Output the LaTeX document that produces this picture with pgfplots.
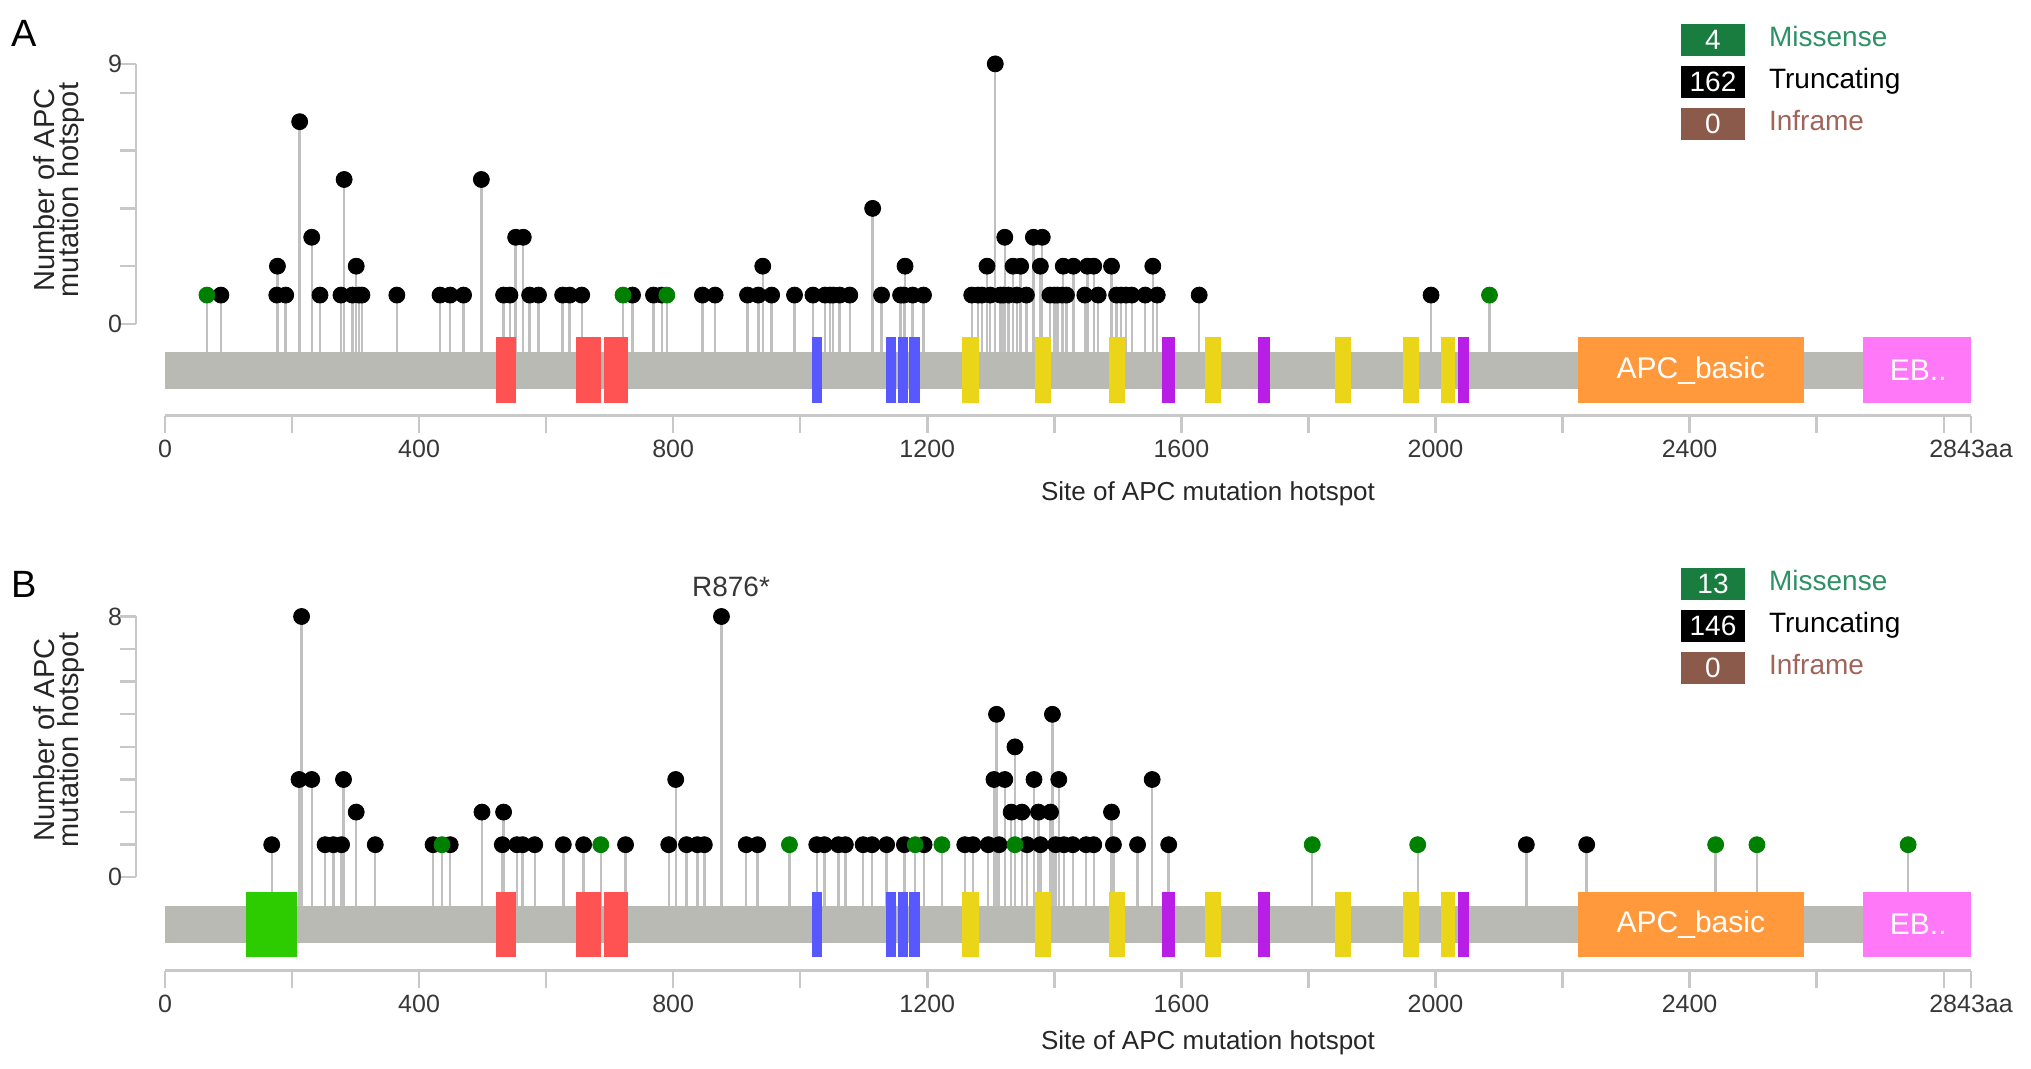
\documentclass[border=0pt]{standalone}
\usepackage{fontspec}
\setmainfont{Liberation Sans}
\usepackage{pgfplots}
\usepackage{pgfplotstable}
\pgfplotsset{compat=1.18}

\definecolor{bargray}{RGB}{186,186,181}
\definecolor{stemgray}{RGB}{192,192,192}
\definecolor{axgray}{RGB}{200,200,200}
\definecolor{ticktext}{RGB}{55,55,55}
\definecolor{misgreen}{RGB}{0,128,0}
\definecolor{legmis}{RGB}{24,125,62}
\definecolor{legmistext}{RGB}{45,145,100}
\definecolor{leginf}{RGB}{140,90,75}
\definecolor{leginftext}{RGB}{160,100,90}
\definecolor{domred}{RGB}{255,83,83}
\definecolor{domblue}{RGB}{88,88,255}
\definecolor{domyellow}{RGB}{235,213,25}
\definecolor{dompurple}{RGB}{185,30,230}
\definecolor{domorange}{RGB}{255,153,60}
\definecolor{dompink}{RGB}{255,120,248}
\definecolor{domgreen}{RGB}{45,204,0}

\newcommand{\dom}[3]{\addplot[fill=#1, draw=none] coordinates {(#2,\dlo)(#3,\dlo)(#3,\dhi)(#2,\dhi)} -- cycle;}
\newcommand{\domains}{%
  \dom{domred}{521}{552}\dom{domred}{647}{686}\dom{domred}{691}{729}
  \dom{domblue}{1018}{1034}\dom{domblue}{1135}{1151}\dom{domblue}{1154}{1170}\dom{domblue}{1171}{1188}
  \dom{domyellow}{1255}{1282}\dom{domyellow}{1369}{1395}\dom{domyellow}{1486}{1511}
  \dom{domyellow}{1637}{1662}\dom{domyellow}{1842}{1867}\dom{domyellow}{1949}{1974}\dom{domyellow}{2009}{2031}
  \dom{dompurple}{1569}{1590}\dom{dompurple}{1720}{1739}\dom{dompurple}{2035}{2053}
  \dom{domorange}{2224}{2580}\dom{dompink}{2673}{2843}}

\pgfplotsset{
  track/.style={scale only axis, width=903pt, xmin=0, xmax=2843,
    enlargelimits=false, clip=false, anchor=south west,
    axis y line=none, axis x line*=bottom,
    x axis line style={draw=axgray, line width=1.5pt, -},
    xtick={0,200,400,600,800,1000,1200,1400,1600,1800,2000,2200,2400,2600,2800,2843},
    xticklabels={0,,400,,800,,1200,,1600,,2000,,2400,,,2843aa},
    tick align=outside, major tick length=8.5pt,
    tick style={draw=axgray, line width=1.2pt},
    xticklabel style={font=\fontsize{12.5}{12.5}\selectfont, text=ticktext},
    /pgf/number format/assume math mode=true},
  yax/.style={scale only axis, width=1pt, xmin=0, xmax=1, anchor=south west,
    enlargelimits=false, axis x line=none, axis y line*=left,
    y axis line style={draw=axgray, line width=1.2pt, -},
    tick align=outside, major tick length=8pt,
    tick style={draw=axgray, line width=1.2pt},
    yticklabel style={font=\fontsize{12.5}{12.5}\selectfont, text=ticktext, xshift=4.5pt},
    /pgf/number format/assume math mode=true},
  stems/.style={draw=none, mark=none, forget plot,
    error bars/.cd, y dir=minus, y explicit, error mark=none,
    error bar style={draw=stemgray, line width=1.2pt}},
  heads/.style={only marks, mark=*, mark size=4pt},
}

\begin{document}

\pgfplotstableread{
pos n
88 1
176 1
177 2
190 1
212 7
231 3
244 1
277 1
282 5
295 1
301 2
305 1
310 1
365 1
433 1
449 1
470 1
498 5
533 1
543 1
552 3
564 3
574 1
588 1
626 1
637 1
656 1
736 1
769 1
782 1
846 1
866 1
917 1
934 1
941 2
955 1
991 1
1020 1
1039 1
1047 1
1052 1
1062 1
1078 1
1114 4
1128 1
1158 1
1163 1
1165 2
1177 1
1194 1
1270 1
1280 1
1286 1
1294 2
1299 1
1307 9
1315 1
1320 1
1322 3
1328 1
1335 2
1341 1
1347 2
1356 1
1367 3
1378 2
1381 3
1393 1
1400 1
1405 1
1412 1
1414 2
1419 1
1430 2
1448 1
1452 2
1462 2
1469 1
1490 2
1498 1
1505 1
1513 1
1522 1
1543 1
1555 2
1562 1
1628 1
1993 1
}\truncA

\pgfplotstableread{
pos n
66 1
721 1
790 1
2085 1
}\misA

\pgfplotstableread{
pos n
168 1
211 3
215 8
231 3
252 1
265 1
278 1
281 3
301 2
331 1
422 1
449 1
499 2
531 1
533 2
554 1
563 1
582 1
627 1
659 1
725 1
793 1
804 3
821 1
838 1
849 1
876 8
915 1
933 1
1026 1
1038 1
1060 1
1071 1
1099 1
1113 1
1136 1
1164 1
1195 1
1259 1
1272 1
1296 1
1305 3
1309 5
1313 1
1322 3
1332 2
1338 4
1349 2
1357 1
1368 3
1375 2
1378 1
1394 2
1397 5
1402 1
1407 3
1415 1
1429 1
1450 1
1462 1
1490 2
1493 1
1531 1
1554 3
1580 1
2143 1
2238 1
}\truncB

\pgfplotstableread{
pos n
436 1
686 1
983 1
1181 1
1223 1
1338 1
1806 1
1972 1
2441 1
2506 1
2744 1
}\misB

\begin{tikzpicture}
\path[use as bounding box] (0,0) rectangle (1015.5pt,534.5pt);

% ---------------- panel A ----------------
\def\dlo{-2.74}\def\dhi{-0.464}
\begin{axis}[track, at={(82.5pt,326.55pt)}, height=184.67pt, ymin=-3.18, ymax=9.6]
  \addplot[stems] table[x=pos, y=n, y error expr=\thisrow{n}+0.958] {\truncA};
  \addplot[stems] table[x=pos, y=n, y error expr=\thisrow{n}+0.958] {\misA};
  \addplot[fill=bargray, draw=none] coordinates {(0,-2.26)(2843,-2.26)(2843,-0.958)(0,-0.958)} -- cycle;
  \domains
  \addplot[heads, fill=black, draw=black] table[x=pos, y=n] {\truncA};
  \addplot[heads, fill=misgreen, draw=misgreen] table[x=pos, y=n] {\misA};
  \node[text=white, font=\fontsize{15}{15}\selectfont] at (axis cs:2402,-1.6) {APC\_basic};
  \node[text=white!92!pink, font=\fontsize{15}{15}\selectfont] at (axis cs:2760,-1.6) {EB..};
\end{axis}
\begin{axis}[yax, at={(68pt,372.5pt)}, height=130.05pt, ymin=0, ymax=9,
    ytick={0,2,4,6,8,9}, yticklabels={0,,,,,9}]
  \addplot[draw=none] coordinates {(0,0)};
\end{axis}

% ---------------- panel B ----------------
\def\dlo{-2.44}\def\dhi{-0.44}
\begin{axis}[track, at={(82.5pt,49.15pt)}, height=186.88pt, ymin=-2.865, ymax=8.6]
  \addplot[stems] table[x=pos, y=n, y error expr=\thisrow{n}+0.88] {\truncB};
  \addplot[stems] table[x=pos, y=n, y error expr=\thisrow{n}+0.88] {\misB};
  \addplot[fill=bargray, draw=none] coordinates {(0,-2.02)(2843,-2.02)(2843,-0.88)(0,-0.88)} -- cycle;
  \dom{domgreen}{128}{208}
  \domains
  \addplot[heads, fill=black, draw=black] table[x=pos, y=n] {\truncB};
  \addplot[heads, fill=misgreen, draw=misgreen] table[x=pos, y=n] {\misB};
  \node[text=white, font=\fontsize{15}{15}\selectfont] at (axis cs:2402,-1.45) {APC\_basic};
  \node[text=white!92!pink, font=\fontsize{15}{15}\selectfont] at (axis cs:2760,-1.45) {EB..};
  \node[text=ticktext, font=\fontsize{14}{14}\selectfont] at (axis cs:891,8.9) {R876*};
\end{axis}
\begin{axis}[yax, at={(68pt,95.85pt)}, height=130.4pt, ymin=0, ymax=8,
    ytick={0,1,2,3,4,5,6,7,8}, yticklabels={0,,,,,,,,8}]
  \addplot[draw=none] coordinates {(0,0)};
\end{axis}

% ---------------- text ----------------
\node[font=\fontsize{19}{19}\selectfont] at (12pt,518pt) {A};
\node[font=\fontsize{19}{19}\selectfont] at (12pt,242.5pt) {B};
\node[rotate=90, align=center, font=\fontsize{14.5}{12.3}\selectfont, text=black!85] at (29.5pt,439.5pt) {Number of APC\\mutation hotspot};
\node[rotate=90, align=center, font=\fontsize{14.5}{12.3}\selectfont, text=black!85] at (29.5pt,164.5pt) {Number of APC\\mutation hotspot};
\node[font=\fontsize{13}{13}\selectfont, text=black!85] at (604pt,287.75pt) {Site of APC mutation hotspot};
\node[font=\fontsize{13}{13}\selectfont, text=black!85] at (604pt,13pt) {Site of APC mutation hotspot};

% legends
\foreach \yy/\nm/\nb in {514.5/4/162, 242.5/13/146}{
  \node[fill=legmis, minimum width=32pt, minimum height=16pt, inner sep=0pt, text=white, font=\fontsize{14}{14}\selectfont] at (856.5pt,\yy pt) {\nm};
  \node[anchor=west, text=legmistext, font=\fontsize{14}{14}\selectfont, text height=10pt, text depth=3pt] at (881pt,\yy pt) {Missense};
  \node[fill=black, minimum width=32pt, minimum height=16pt, inner sep=0pt, text=white, font=\fontsize{14}{14}\selectfont] at (856.5pt,\yy pt-21pt) {\nb};
  \node[anchor=west, text=black, font=\fontsize{14}{14}\selectfont, text height=10pt, text depth=3pt] at (881pt,\yy pt-21pt) {Truncating};
  \node[fill=leginf, minimum width=32pt, minimum height=16pt, inner sep=0pt, text=white, font=\fontsize{14}{14}\selectfont] at (856.5pt,\yy pt-42pt) {0};
  \node[anchor=west, text=leginftext, font=\fontsize{14}{14}\selectfont, text height=10pt, text depth=3pt] at (881pt,\yy pt-42pt) {Inframe};
}
\end{tikzpicture}
\end{document}
